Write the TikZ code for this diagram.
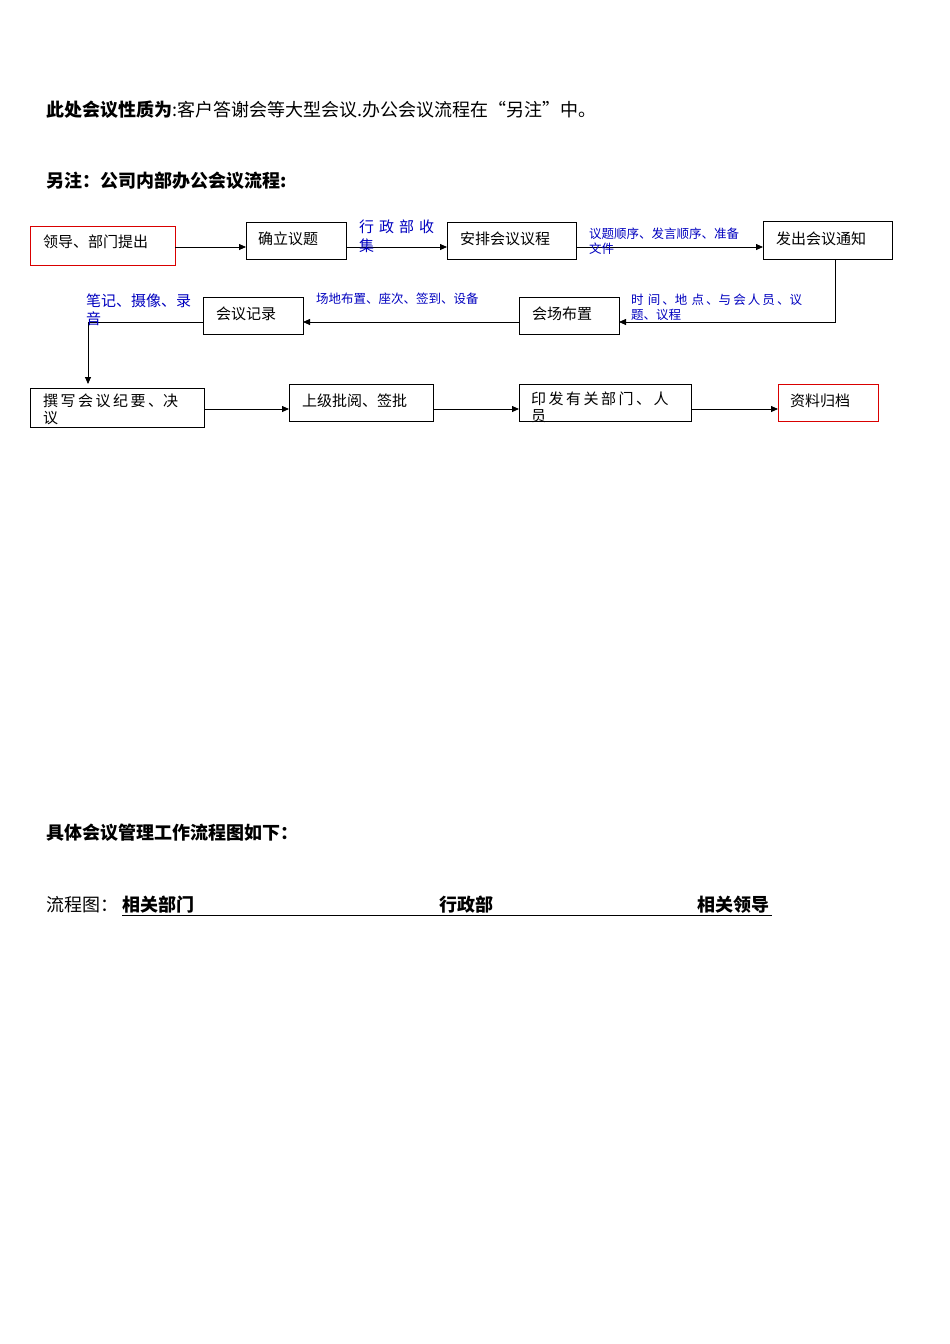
\documentclass[tikz,border=0pt]{standalone}
\usepackage{fontspec}
\setmainfont{Noto Sans CJK SC}
\usetikzlibrary{arrows.meta}
\begin{document}
\begin{tikzpicture}[x=1pt,y=1pt,
  box/.style={draw,line width=0.8pt,inner sep=0pt},
  rbox/.style={draw=red!85!black,line width=0.8pt,inner sep=0pt},
  btxt/.style={anchor=west,font=\fontsize{15}{17}\selectfont,inner sep=0pt},
  lbl/.style={anchor=west,text=blue!75!black,inner sep=0pt,align=left,font=\fontsize{12.5}{16}\selectfont},
  arr/.style={-{Triangle[length=7pt,width=6pt]},line width=0.8pt},
  ttl/.style={anchor=west,inner sep=0pt,font=\fontsize{18}{20}\selectfont}]
\useasboundingbox (0,0) rectangle (950,-1344);
\fill[white] (0,0) rectangle (950,-1344);
% top texts
\node[ttl] (t1) at (46,-110) {\textbf{此处会议性质为}:客户答谢会等大型会议.办公会议流程在“另注”中。};
\node[ttl] (t2) at (46,-181) {\textbf{另注：公司内部办公会议流程:}};
\node[ttl] (t3) at (46,-833) {\textbf{具体会议管理工作流程图如下：}};
\node[ttl] (t4) at (46,-905) {流程图：};
\node[ttl] (t5) at (122,-905) {\textbf{相关部门}};
\node[ttl] (t6) at (439,-905) {\textbf{行政部}};
\node[ttl] (t7) at (697,-905) {\textbf{相关领导}};
\draw[line width=0.7pt] (122,-915) -- (772,-915);
% boxes
\path[rbox] (30,-226) rectangle (175,-265);
\node[btxt] (nA) at (43,-242) {领导、部门提出};
\path[box] (246,-222) rectangle (346,-259);
\node[btxt] (nB) at (258,-239) {确立议题};
\path[box] (447,-222) rectangle (576,-259);
\node[btxt] (nC) at (460,-239) {安排会议议程};
\path[box] (763,-221) rectangle (892,-259);
\node[btxt] (nD) at (776,-239) {发出会议通知};
\path[box] (519,-297) rectangle (619,-334);
\node[btxt] (nE) at (532,-314) {会场布置};
\path[box] (203,-297) rectangle (303,-334);
\node[btxt] (nF) at (216,-314) {会议记录};
\path[box] (30,-388) rectangle (204,-427);
\begin{scope}
\clip (30,-388) rectangle (204,-427);
\node[btxt,align=left,anchor=north west] (nG) at (43,-394) {撰\,写\,会\,议\,纪\,要\,、决\\[0pt]议};
\end{scope}
\path[box] (289,-384) rectangle (433,-421);
\node[btxt] (nH) at (302,-401) {上级批阅、签批};
\path[box] (519,-384) rectangle (691,-421);
\node[btxt,align=left,anchor=north west] (nI) at (531,-392) {印\,发\,有\,关\,部\,门\,、\,人\\[0pt]员};
\path[rbox] (778,-384) rectangle (878,-421);
\node[btxt] (nJ) at (790,-401) {资料归档};
% arrows
\draw[arr] (175,-247) -- (246,-247);
\draw[arr] (346,-247) -- (447,-247);
\draw[arr] (576,-247) -- (763,-247);
\draw[arr] (835,-259) -- (835,-322) -- (619,-322);
\draw[arr] (519,-322) -- (303,-322);
\draw[arr] (203,-322) -- (88,-322) -- (88,-384);
\draw[arr] (204,-409) -- (289,-409);
\draw[arr] (433,-409) -- (519,-409);
\draw[arr] (691,-409) -- (778,-409);
% labels
\node[lbl,font=\fontsize{15}{19}\selectfont] at (359,-236) {行\,\,政\,\,部\,\,收\\集};
\node[lbl] at (589,-241) {议题顺序、发言顺序、准备\\[-1pt]文件};
\node[lbl] at (631,-307) {时\,\,间\,、地\,\,点\,、与\,会\,人\,员\,、议\\[-1pt]题、议程};
\node[lbl] at (316,-299) {场地布置、座次、签到、设备};
\node[lbl,font=\fontsize{15}{18}\selectfont] at (86,-310) {笔记、摄像、录\\音};
\end{tikzpicture}
\end{document}
